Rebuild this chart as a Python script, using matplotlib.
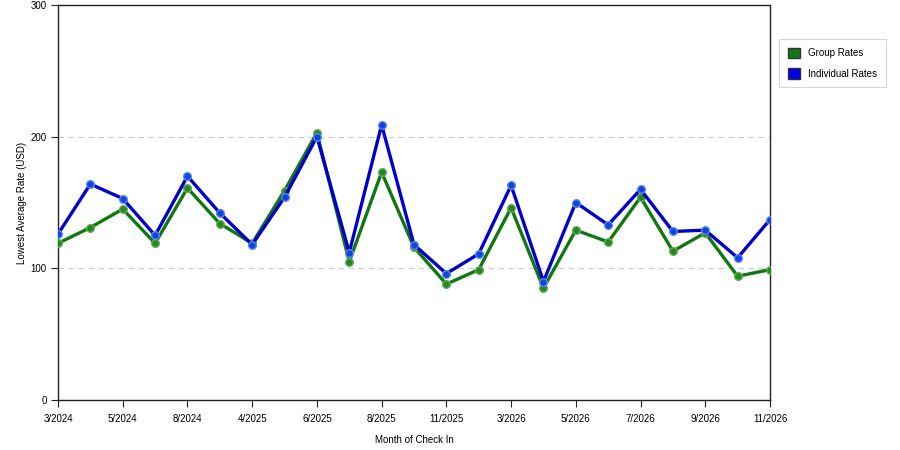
import matplotlib
matplotlib.use("Agg")
import matplotlib.pyplot as plt
from matplotlib.patches import Patch

plt.rcParams['font.family'] = ['Liberation Sans', 'DejaVu Sans']

months = ["3/2024", "4/2024", "5/2024", "7/2024", "8/2024", "9/2024", "4/2025", "5/2025",
          "6/2025", "7/2025", "8/2025", "10/2025", "11/2025", "12/2025", "3/2026", "4/2026",
          "5/2026", "6/2026", "7/2026", "8/2026", "9/2026", "10/2026", "11/2026"]
tick_labels = ["3/2024", "5/2024", "8/2024", "4/2025", "6/2025", "8/2025", "11/2025",
               "3/2026", "5/2026", "7/2026", "9/2026", "11/2026"]
group_rates = [119, 131, 145, 119, 161, 134, 119, 159, 203, 105, 173, 116, 88, 99,
               146, 85, 129, 120, 154, 113, 127, 94, 99]
individual_rates = [126, 164, 153, 125, 170, 142, 118, 154, 200, 112, 209, 118, 96, 111,
                    163, 90, 150, 133, 160, 128, 129, 108, 137]

fig = plt.figure(figsize=(9, 4.5), dpi=100)
ax = fig.add_axes([58/900, 50/450, 712/900, 395/450])

x = list(range(len(months)))
ax.plot(x, group_rates, color='#117711', lw=2.4, marker='o', ms=5.5,
        mfc='#228822', mec='#66aa55', mew=1.0, zorder=3)
ax.plot(x, individual_rates, color='#0000cc', lw=2.4, marker='o', ms=5.5,
        mfc='#1144dd', mec='#5588ee', mew=1.0, zorder=4)

ax.set_xlim(0, len(months) - 1)
ax.set_ylim(0, 300)
ax.set_yticks([0, 100, 200, 300])
ax.set_xticks(x[::2])
ax.set_xticklabels(tick_labels)
for v in [100, 200]:
    ax.axhline(v, color='#cccccc', lw=0.8, ls=(0, (5, 4)), zorder=1)

for s in ax.spines.values():
    s.set_color('#222222')
    s.set_linewidth(1.0)
ax.tick_params(axis='both', labelsize=7, length=5, width=0.8, color='#222222', pad=3)
ax.tick_params(axis='x', pad=5)
ax.set_xlabel("Month of Check In", fontsize=7, labelpad=8)
ax.set_ylabel("Lowest Average Rate (USD)", fontsize=7, labelpad=3)

handles = [Patch(facecolor='#117711', edgecolor='#333333', label='Group Rates'),
           Patch(facecolor='#0000ee', edgecolor='#333333', label='Individual Rates')]
leg = fig.legend(handles=handles, loc='upper left', bbox_to_anchor=(779/900, 1 - 39/450),
                 fontsize=7, frameon=True, fancybox=False, edgecolor='#cccccc',
                 handlelength=1.3, handleheight=1.3, borderpad=0.9, labelspacing=1.0,
                 handletextpad=0.8, borderaxespad=0)
leg.get_frame().set_linewidth(0.8)

fig.savefig("out.png", dpi=100)
